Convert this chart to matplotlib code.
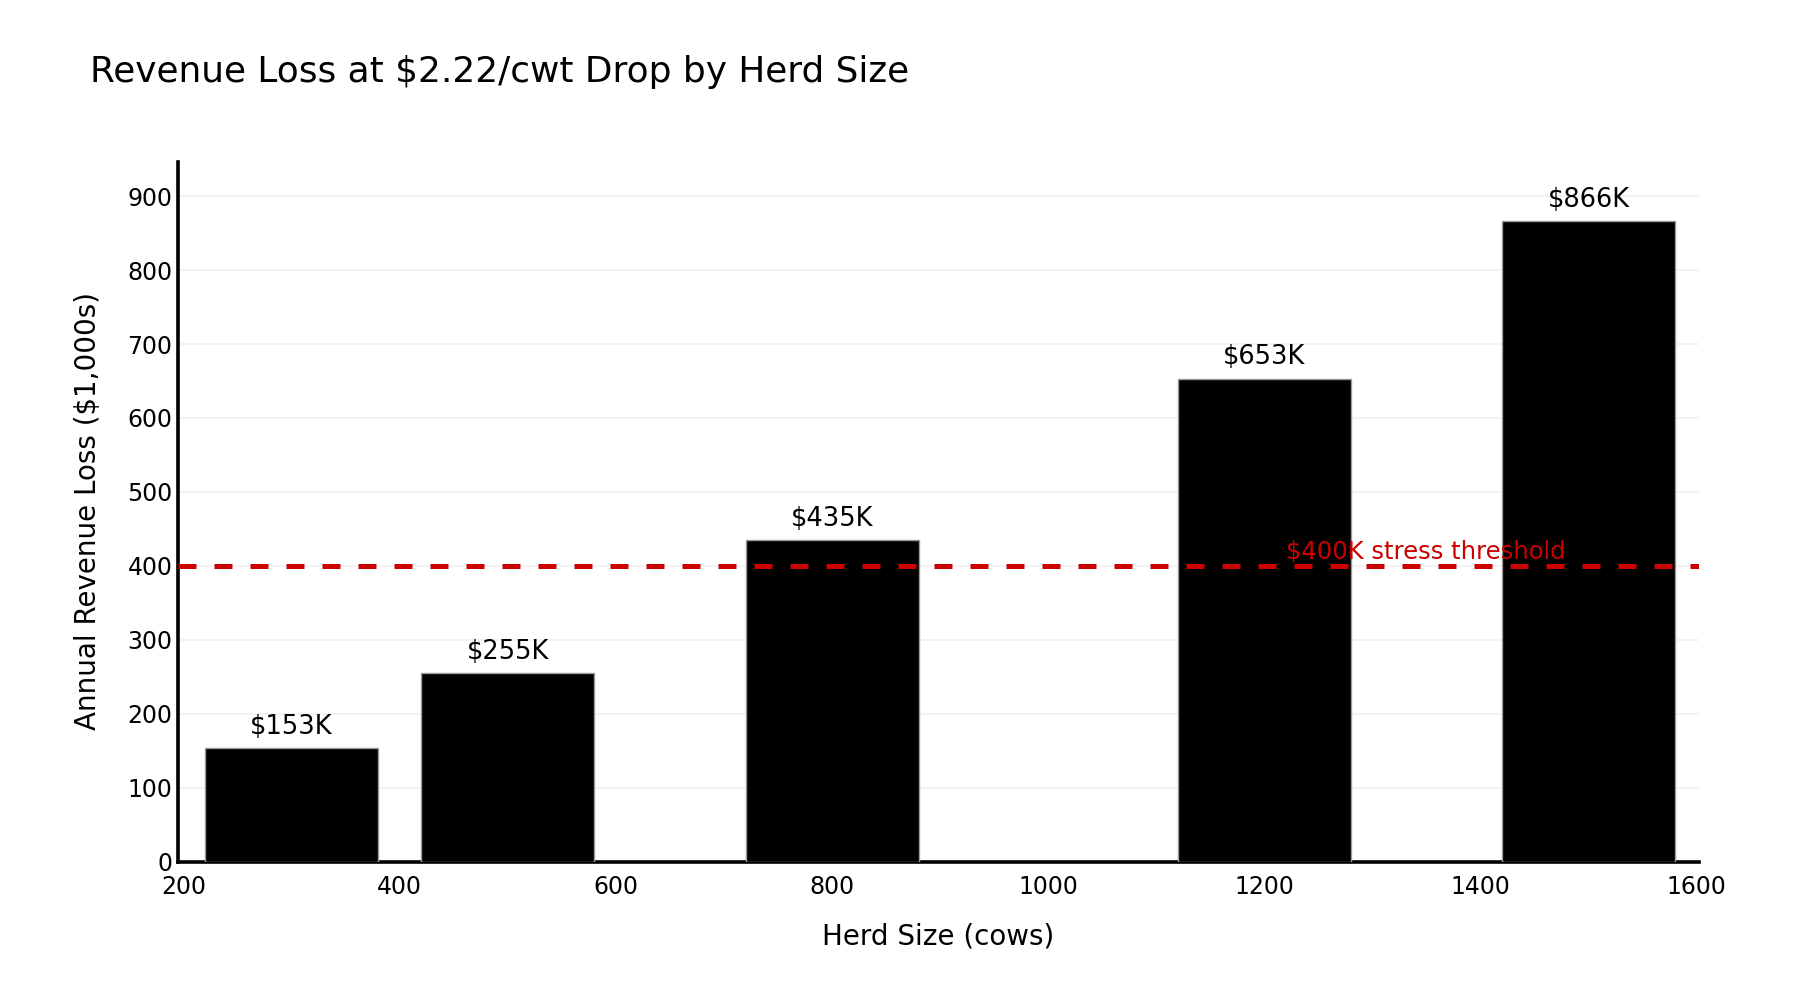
import matplotlib
matplotlib.use("Agg")
import matplotlib.pyplot as plt

# Data
herd_sizes = [300, 500, 800, 1200, 1500]
revenue_loss = [153, 255, 435, 653, 866]  # in $1,000s
bar_labels = ["$153K", "$255K", "$435K", "$653K", "$866K"]
threshold = 400
threshold_label = "$400K stress threshold"

plt.rcParams['font.family'] = ['DejaVu Sans']

fig = plt.figure(figsize=(18, 10), dpi=100)
ax = fig.add_axes([0.0989, 0.1385, 0.845, 0.700])

# Bars
ax.bar(herd_sizes, revenue_loss, width=160, color="black",
       edgecolor="#999999", linewidth=1, zorder=3)

# Value labels on top of each bar
for x, y, lab in zip(herd_sizes, revenue_loss, bar_labels):
    ax.annotate(lab, (x, y), xytext=(0, 6), textcoords="offset points",
                ha="center", va="bottom", fontsize=18.5, color="black")

# Stress threshold line
ax.axhline(threshold, color="#cc0000", linewidth=3.6, linestyle=(0, (3.6, 3.6)), zorder=4)
ax.text(1220, threshold + 3, threshold_label, color="#cc0000",
        fontsize=17.5, ha="left", va="bottom", zorder=5)

# Axes styling
ax.set_xlim(195, 1602)
ax.set_ylim(0, 947)
ax.set_xticks(range(200, 1601, 200))
ax.set_yticks(range(0, 901, 100))
ax.tick_params(axis="both", length=0, labelsize=17)
ax.tick_params(axis="x", pad=10)
ax.tick_params(axis="y", pad=4)

ax.grid(axis="y", color="#f0f0f0", linewidth=1.2, zorder=0)
ax.set_axisbelow(True)

for side in ["top", "right"]:
    ax.spines[side].set_visible(False)
for side in ["left", "bottom"]:
    ax.spines[side].set_linewidth(2.6)
    ax.spines[side].set_color("black")

ax.set_xlabel("Herd Size (cows)", fontsize=20, labelpad=17)
ax.set_ylabel("Annual Revenue Loss ($1,000s)", fontsize=20, labelpad=18)

fig.text(0.05, 0.918, "Revenue Loss at $2.22/cwt Drop by Herd Size",
         fontsize=25.8, ha="left", va="baseline")

fig.savefig("out.png", dpi=100, facecolor="white")
